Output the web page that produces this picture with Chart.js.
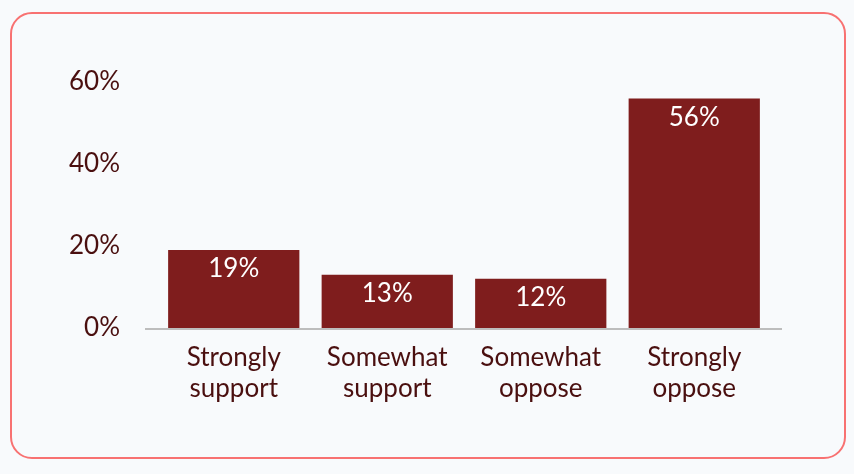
<!DOCTYPE html>
<html>
<head>
<meta charset="utf-8">
<script src="https://cdn.jsdelivr.net/npm/chart.js@4.4.0/dist/chart.umd.min.js"></script>
<style>
  html, body { margin: 0; padding: 0; background: #f8fafc; }
  body { width: 854px; height: 474px; position: relative; overflow: hidden; }
  .card {
    position: absolute; left: 10px; top: 12px; width: 832px; height: 443px;
    border: 2px solid #f87171; border-radius: 22px; background: #f8fafc;
  }
  #chart { position: absolute; left: 0; top: 0; }
</style>
</head>
<body>
<div class="card"></div>
<canvas id="chart" width="854" height="474"></canvas>
<script>
// Data
const categories = [["Strongly", "support"], ["Somewhat", "support"], ["Somewhat", "oppose"], ["Strongly", "oppose"]];
const values = [19, 13, 12, 56];
const yTicks = [0, 20, 40, 60];

const barColor = "#7f1d1d";
const textColor = "#4a0f0f";
const fontFamily = "Lato, 'Open Sans', sans-serif";

// White value labels inside bar tops
const barLabels = {
  id: "barLabels",
  afterDatasetsDraw(chart) {
    const { ctx } = chart;
    const meta = chart.getDatasetMeta(0);
    ctx.save();
    ctx.fillStyle = "#ffffff";
    ctx.font = `26px ${fontFamily}`;
    ctx.textAlign = "center";
    ctx.textBaseline = "middle";
    meta.data.forEach((bar, i) => {
      ctx.fillText(`${values[i]}%`, bar.x, bar.y + 19);
    });
    ctx.restore();
  }
};

// Baseline a bit wider than the plot area
const baseLine = {
  id: "baseLine",
  afterDatasetsDraw(chart) {
    const { ctx, chartArea } = chart;
    const y = chart.scales.y.getPixelForValue(0);
    ctx.save();
    ctx.strokeStyle = "#bdbdbd";
    ctx.lineWidth = 2;
    ctx.beginPath();
    ctx.moveTo(chartArea.left - 12, y + 1);
    ctx.lineTo(chartArea.right + 11, y + 1);
    ctx.stroke();
    ctx.restore();
  }
};

new Chart(document.getElementById("chart"), {
  type: "bar",
  data: {
    labels: categories,
    datasets: [{
      data: values,
      backgroundColor: barColor,
      borderWidth: 0,
      barPercentage: 0.9,
      categoryPercentage: 0.95
    }]
  },
  options: {
    responsive: false,
    animation: false,
    layout: { padding: { top: 82, right: 83, left: 0, bottom: 0 } },
    plugins: { legend: { display: false }, tooltip: { enabled: false } },
    scales: {
      x: {
        grid: { display: false, drawTicks: false },
        border: { display: false },
        ticks: { color: textColor, font: { family: fontFamily, size: 26, lineHeight: 1.2 }, padding: 14, maxRotation: 0 },
        afterFit: (s) => { s.height = 146; }
      },
      y: {
        min: 0, max: 60,
        afterBuildTicks: (s) => { s.ticks = yTicks.map(v => ({ value: v })); },
        grid: { display: false, drawTicks: false },
        border: { display: false },
        ticks: { color: textColor, font: { family: fontFamily, size: 26 }, padding: 37, callback: (v) => `${v}%` },
        afterFit: (s) => { s.width = 157; }
      }
    }
  },
  plugins: [barLabels, baseLine]
});
</script>
</body>
</html>
